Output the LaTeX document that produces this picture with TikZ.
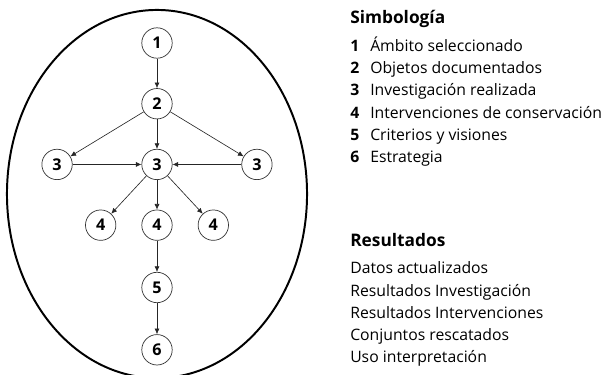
\documentclass[tikz,border=0pt]{standalone}
\usepackage{fontspec}
\setmainfont{Open Sans}
\usetikzlibrary{positioning,arrows.meta}

\begin{document}
\begin{tikzpicture}[
    x=0.025cm, y=-0.025cm,
    num/.style={
        circle, draw=black!80, line width=0.5pt,
        minimum size=0.76cm, inner sep=0pt,
        font=\bfseries\fontsize{11.5}{12}\selectfont
    },
    arrow/.style={-{Latex[length=4pt,width=3.6pt]}, line width=0.45pt, draw=black!85},
    head/.style={anchor=base west, inner sep=0pt, font=\fontsize{12.3}{14}\selectfont\bfseries},
    item/.style={anchor=base west, inner sep=0pt, font=\fontsize{11.2}{13}\selectfont},
    node distance=0.74cm and 1.72cm
]
\useasboundingbox (0,0) rectangle (613,375);

% --- contorno ---
\draw[line width=1.4pt] (157,194) ellipse [x radius=3.75cm, y radius=4.6cm];

% --- eje central ---
\node[num] (n1) at (157,43) {1};
\node[num, below=of n1] (n2) {2};
\node[num, below=of n2] (n3) {3};
\node[num, left=of n3] (n3l) {3};
\node[num, right=of n3] (n3r) {3};
\node[num, below=of n3] (n4) {4};
\node[num, left=0.63cm of n4] (n4l) {4};
\node[num, right=0.63cm of n4] (n4r) {4};
\node[num, below=0.78cm of n4] (n5) {5};
\node[num, below=0.78cm of n5] (n6) {6};

% --- flechas ---
\draw[arrow] (n1) -- (n2);
\draw[arrow] (n2) -- (n3);
\draw[arrow] (n2) -- (n3l);
\draw[arrow] (n2) -- (n3r);
\draw[arrow] (n3l) -- (n3);
\draw[arrow] (n3r) -- (n3);
\draw[arrow] (n3) -- (n4l);
\draw[arrow] (n3) -- (n4);
\draw[arrow] (n3) -- (n4r);
\draw[arrow] (n4) -- (n5);
\draw[arrow] (n5) -- (n6);

% --- Simbología ---
\node[head] (simb) at (350,23.8) {Simbología};
\node[item] (k1) at (350,51.5) {\makebox[14.2pt][l]{\textbf{1}}Ámbito seleccionado};
\node[item] (k2) at (350,73.7) {\makebox[14.2pt][l]{\textbf{2}}Objetos documentados};
\node[item] (k3) at (350,95.9) {\makebox[14.2pt][l]{\textbf{3}}Investigación realizada};
\node[item] (k4) at (350,118.1) {\makebox[14.2pt][l]{\textbf{4}}Intervenciones de conservación};
\node[item] (k5) at (350,140.3) {\makebox[14.2pt][l]{\textbf{5}}Criterios y visiones};
\node[item] (k6) at (350,162.2) {\makebox[14.2pt][l]{\textbf{6}}Estrategia};

% --- Resultados ---
\node[head] (res) at (350,246.7) {Resultados};
\node[item] (r1) at (350,273.8) {Datos actualizados};
\node[item] (r2) at (350,296) {Resultados Investigación};
\node[item] (r3) at (350,318.2) {Resultados Intervenciones};
\node[item] (r4) at (350,340.4) {Conjuntos rescatados};
\node[item] (r5) at (350,362.6) {Uso interpretación};

\end{tikzpicture}
\end{document}
